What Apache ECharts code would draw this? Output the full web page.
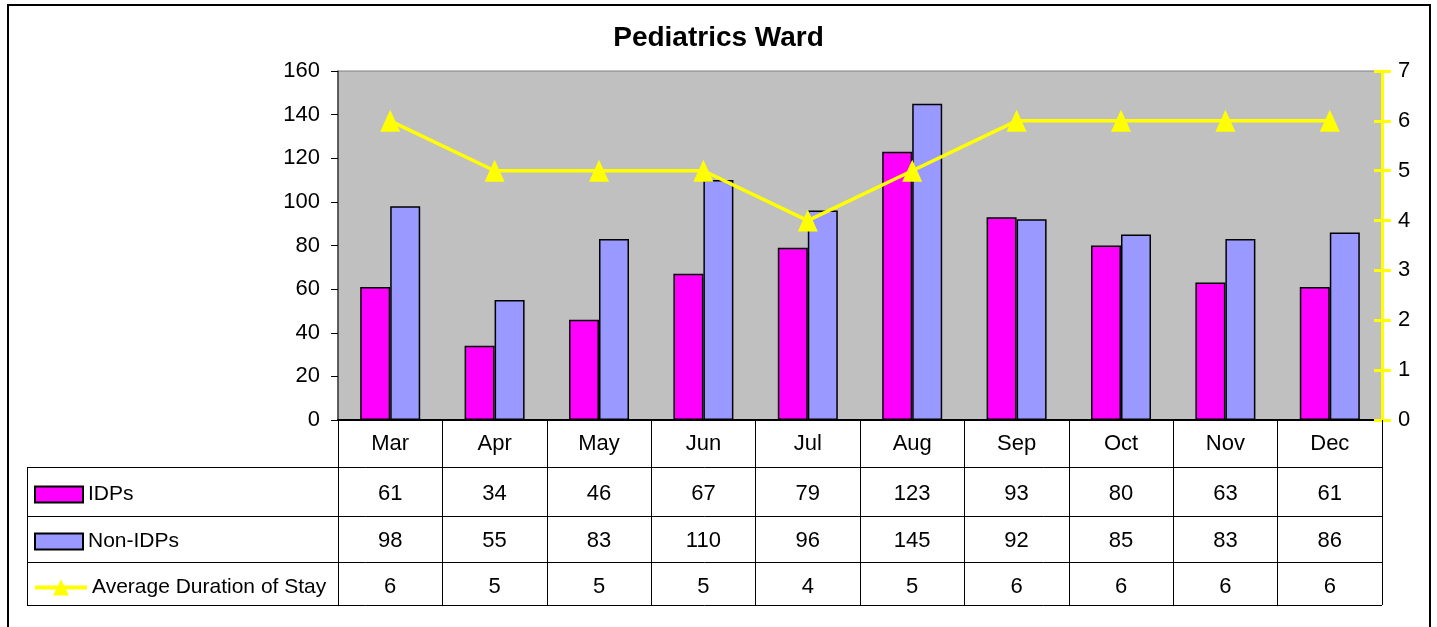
<!DOCTYPE html>
<html>
<head>
<meta charset="utf-8">
<script src="https://cdn.jsdelivr.net/npm/echarts@6/dist/echarts.min.js"></script>
<style>
html,body{margin:0;padding:0;background:#fff;}
#chart{width:1437px;height:627px;}
</style>
</head>
<body>
<div id="chart"></div>
<script>
const months = ['Mar','Apr','May','Jun','Jul','Aug','Sep','Oct','Nov','Dec'];
const idps = [61,34,46,67,79,123,93,80,63,61];
const nonIdps = [98,55,83,110,96,145,92,85,83,86];
const avgStay = [6,5,5,5,4,5,6,6,6,6];
const leftTicks = {min:0, max:160, interval:20};
const rightTicks = {min:0, max:7, interval:1};

const FONT = "'Liberation Sans',Arial,sans-serif";
const FS = 22;

const chart = echarts.init(document.getElementById('chart'));

function rowAxis(values, offset){
  return {
    type:'category', data:months, gridIndex:0, position:'bottom', offset:offset,
    axisLine:{show:false}, axisTick:{show:false}, splitLine:{show:false},
    axisLabel:{interval:0, margin:12.5, color:'#000', fontFamily:FONT, fontSize:FS,
      formatter:(v,i)=>String(values[i])}
  };
}

const option = {
  animation:false,
  backgroundColor:'#fff',
  title:{text:'Pediatrics Ward', left:'center', top:19,
    textStyle:{fontFamily:FONT, fontSize:28, fontWeight:'bold', color:'#000'}},
  grid:{left:338, right:55, top:71, bottom:207, show:true, backgroundColor:'#C0C0C0', borderColor:'#808080', borderWidth:1},
  legend:[
    {orient:'vertical', left:29, top:479, itemWidth:48, itemHeight:16, itemGap:26,
      textStyle:{fontFamily:FONT, fontSize:21, color:'#000'},
      data:[{name:'IDPs', icon:'rect'},{name:'Non-IDPs', icon:'rect'}]},
    {orient:'vertical', left:28, top:572, itemWidth:52, itemHeight:20,
      textStyle:{fontFamily:FONT, fontSize:21, color:'#000'},
      data:[{name:'Average Duration of Stay', lineStyle:{width:4}}]}
  ],
  xAxis:[
    {type:'category', data:months, gridIndex:0, position:'bottom',
      axisLine:{show:true, lineStyle:{color:'#000', width:2}},
      axisTick:{show:true, interval:0, length:185, lineStyle:{color:'#000', width:1}},
      axisLabel:{interval:0, margin:12.5, color:'#000', fontFamily:FONT, fontSize:FS}},
    rowAxis(idps, 50),
    rowAxis(nonIdps, 97),
    rowAxis(avgStay, 143)
  ],
  yAxis:[
    {type:'value', min:leftTicks.min, max:leftTicks.max, interval:leftTicks.interval,
      axisLine:{show:true, lineStyle:{color:'#404040', width:1.5}},
      axisTick:{show:true, length:7, lineStyle:{color:'#000'}},
      splitLine:{show:false},
      axisLabel:{margin:18, color:'#000', fontFamily:FONT, fontSize:FS}},
    {type:'value', position:'right', min:rightTicks.min, max:rightTicks.max, interval:rightTicks.interval,
      axisLine:{show:true, lineStyle:{color:'#FFFF00', width:3}},
      axisTick:{show:true, length:9, lineStyle:{color:'#FFFF00', width:3}},
      splitLine:{show:false},
      axisLabel:{margin:16, color:'#000', fontFamily:FONT, fontSize:FS}},
    {type:'value', position:'right', min:rightTicks.min, max:rightTicks.max, interval:rightTicks.interval,
      axisLine:{show:false},
      axisTick:{show:true, inside:true, length:8, lineStyle:{color:'#FFFF00', width:3}},
      splitLine:{show:false}, axisLabel:{show:false}}
  ],
  series:[
    {name:'IDPs', type:'bar', data:idps, barWidth:30, barGap:'0%',
      itemStyle:{color:'#FF00FF', borderColor:'#000', borderWidth:1.5}},
    {name:'Non-IDPs', type:'bar', data:nonIdps, barWidth:30, barGap:'0%',
      itemStyle:{color:'#9999FF', borderColor:'#000', borderWidth:1.5}},
    {name:'Average Duration of Stay', type:'line', yAxisIndex:1, data:avgStay,
      symbol:'triangle', symbolSize:[20,22], showSymbol:true,
      lineStyle:{color:'#FFFF00', width:3.5}, itemStyle:{color:'#FFFF00'}, z:5}
  ],
  graphic:[
    {type:'rect', shape:{x:8, y:5, width:1422, height:640}, style:{fill:'none', stroke:'#000', lineWidth:2}, silent:true},
    {type:'line', shape:{x1:27, y1:467.5, x2:1382, y2:467.5}, style:{stroke:'#000', lineWidth:1}},
    {type:'line', shape:{x1:27, y1:516.5, x2:1382, y2:516.5}, style:{stroke:'#000', lineWidth:1}},
    {type:'line', shape:{x1:27, y1:562.5, x2:1382, y2:562.5}, style:{stroke:'#000', lineWidth:1}},
    {type:'line', shape:{x1:27, y1:605.5, x2:1382, y2:605.5}, style:{stroke:'#000', lineWidth:1}},
    {type:'line', shape:{x1:27.5, y1:467.5, x2:27.5, y2:605.5}, style:{stroke:'#000', lineWidth:1}}
  ]
};
chart.setOption(option);
</script>
</body>
</html>
